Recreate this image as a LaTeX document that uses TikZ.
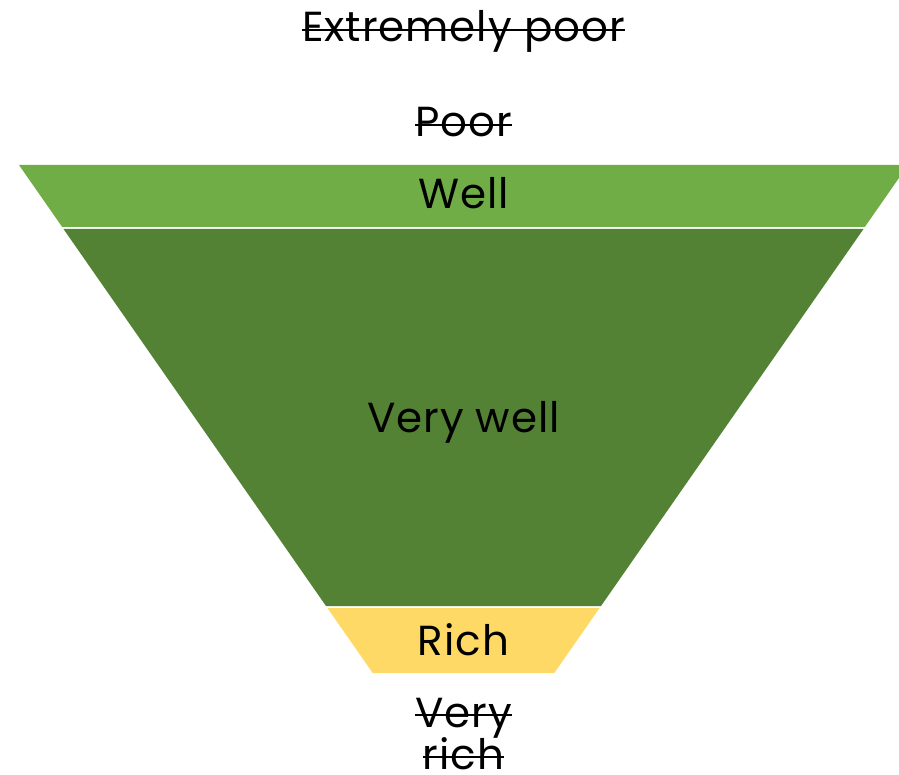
\documentclass[tikz,border=0pt]{standalone}
\usepackage{fontspec}
\setmainfont[LetterSpace=2.3]{Poppins}
\definecolor{wellgreen}{HTML}{70AD47}
\definecolor{verywellgreen}{HTML}{548235}
\definecolor{richyellow}{HTML}{FFD966}
\begin{document}
\begin{tikzpicture}[x=1pt,y=-1pt,
  lbl/.style={font=\fontsize{42}{44}\selectfont, inner sep=0pt, anchor=base, text=black},
  strike/.style={draw=black, line width=2pt}]
\useasboundingbox (0,0) rectangle (899,775);
\begin{scope}
\clip (0,0) rectangle (899,775);
\fill[wellgreen] (19,165) -- (908,165) -- (864.8,227) -- (62.2,227) -- cycle;
\fill[verywellgreen] (63.5,229) -- (863.5,229) -- (601,606) -- (326,606) -- cycle;
\fill[richyellow] (327.4,608) -- (599.6,608) -- (554.3,673) -- (372.7,673) -- cycle;
\end{scope}
\node[lbl] (xpoor) at (463.5,42) {Extremely poor};
\node[lbl] (poor) at (463.5,137) {Poor};
\node[lbl] (well) at (463.5,209) {Well};
\node[lbl] (verywell) at (463.5,432) {Very well};
\node[lbl] (rich) at (463.5,655) {Rich};
\node[lbl] (very) at (463.5,727) {Very};
\node[lbl] (richb) at (463.5,769) {rich};
\foreach \n in {xpoor,poor,very,richb}
  \path[strike] ([yshift=12pt]\n.base west) -- ([yshift=12pt]\n.base east);
\end{tikzpicture}
\end{document}
